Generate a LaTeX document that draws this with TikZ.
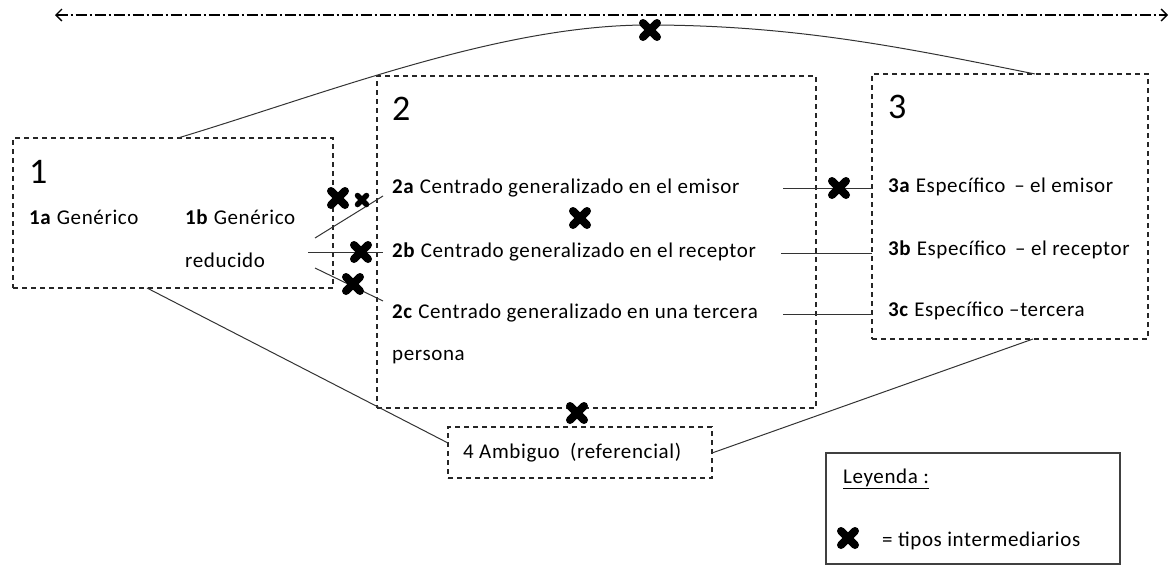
\documentclass[tikz,border=0pt]{standalone}
\usepackage{fontspec}
\setmainfont{Carlito}[LetterSpace=3]
\usetikzlibrary{arrows.meta}
\begin{document}
\begin{tikzpicture}[x=1pt,y=-1pt,
  box/.style={draw=black!85, line width=1.2pt, dash pattern=on 5pt off 4pt, inner sep=0pt, outer sep=0pt, anchor=north west},
  legbox/.style={draw=black!75, line width=1.2pt, inner sep=0pt, outer sep=0pt, anchor=north west},
  txt/.style={anchor=base west, inner sep=0pt, font=\fontsize{21}{25}\selectfont},
  big/.style={anchor=base west, inner sep=0pt, font=\fontsize{36}{40}\selectfont},
  conn/.style={draw=black!80, line width=1pt},
  xm/.pic={\draw[line width=8pt, line cap=round] (-7,-7)--(7,7) (-7,7)--(7,-7);},
  xms/.pic={\draw[line width=5.5pt, line cap=round] (-4.5,-4.5)--(4.5,4.5) (-4.5,4.5)--(4.5,-4.5);}
]
\useasboundingbox (0,0) rectangle (1173,565);

% boxes
\node[box, minimum width=320pt, minimum height=150pt] (b1) at (13,138) {};
\node[box, minimum width=439pt, minimum height=332pt] (b2) at (377,76) {};
\node[box, minimum width=276pt, minimum height=265pt] (b3) at (872,74) {};
\node[box, minimum width=264pt, minimum height=51pt] (b4) at (448,427) {};
\node[legbox, minimum width=294pt, minimum height=111pt] (leg) at (826,453) {};

% texts
\node[big] (n1) at (29,183) {1};
\node[txt] (t1a) at (29,224) {\textbf{1a} Genérico};
\node[txt] (t1b) at (185,224) {\textbf{1b} Genérico};
\node[txt] (t1b2) at (185,267) {reducido};

\node[big] (n2) at (392,120) {2};
\node[txt] (t2a) at (392,193) {\textbf{2a} Centrado generalizado en el emisor};
\node[txt] (t2b) at (392,257) {\textbf{2b} Centrado generalizado en el receptor};
\node[txt] (t2c) at (392,318) {\textbf{2c} Centrado generalizado en una tercera};
\node[txt] (t2c2) at (392,360) {persona};

\node[big] (n3) at (888,118) {3};
\node[txt] (t3a) at (888,192) {\textbf{3a} Específico \,– el emisor};
\node[txt] (t3b) at (888,255) {\textbf{3b} Específico \,– el receptor};
\node[txt] (t3c) at (888,316) {\textbf{3c} Específico –tercera};

\node[txt] (t4) at (463,458) {4 Ambiguo\hspace{5pt} (referencial)};

\node[txt] (tl) at (843,483) {\underline{Leyenda :}};
\node[txt] (tl2) at (882,546) {= tipos intermediarios};

% coordinates
\coordinate (aL) at (55,15);
\coordinate (aR) at (1168,15);
\coordinate (c1) at (178,138);
\coordinate (cp) at (648,25);
\coordinate (c3) at (1035,74);
\coordinate (d1) at (147,288);
\coordinate (d4) at (448,443);
\coordinate (e4) at (712,453);
\coordinate (e3) at (1033,339);
\coordinate (f1) at (315,238);
\coordinate (f2) at (383,196);
\coordinate (g1) at (308,252);
\coordinate (g2) at (383,252);
\coordinate (h1) at (315,268);
\coordinate (h2) at (383,301);
\coordinate (k1) at (783,188);
\coordinate (k2) at (781,253);
\coordinate (k3) at (783,314);

% top arrow
\draw[line width=1.2pt, dash pattern=on 11pt off 3pt on 2pt off 3pt, {Straight Barb[length=6pt,width=12pt,line width=1.4pt]}-{Straight Barb[length=6pt,width=12pt,line width=1.4pt]}] (aL) -- (aR);

% connectors
\draw[conn] (c1) .. controls (330,92) and (500,25) .. (cp) .. controls (800,25) and (915,50) .. (c3);
\draw[conn] (d1) -- (d4);
\draw[conn] (e4) -- (e3);
\draw[conn] (f1) -- (f2);
\draw[conn] (g1) -- (g2);
\draw[conn] (h1) -- (h2);
\draw[conn] (k1) -- (b3.west |- k1);
\draw[conn] (k2) -- (b3.west |- k2);
\draw[conn] (k3) -- (b3.west |- k3);

% intermediate marks
\pic at (650,30) {xm};
\pic at (338,198) {xm};
\pic at (362,200) {xms};
\pic at (361,252) {xm};
\pic at (353,284) {xm};
\pic at (580,218) {xm};
\pic at (839,188) {xm};
\pic at (577,413) {xm};
\pic at (848,538) {xm};
\end{tikzpicture}
\end{document}
